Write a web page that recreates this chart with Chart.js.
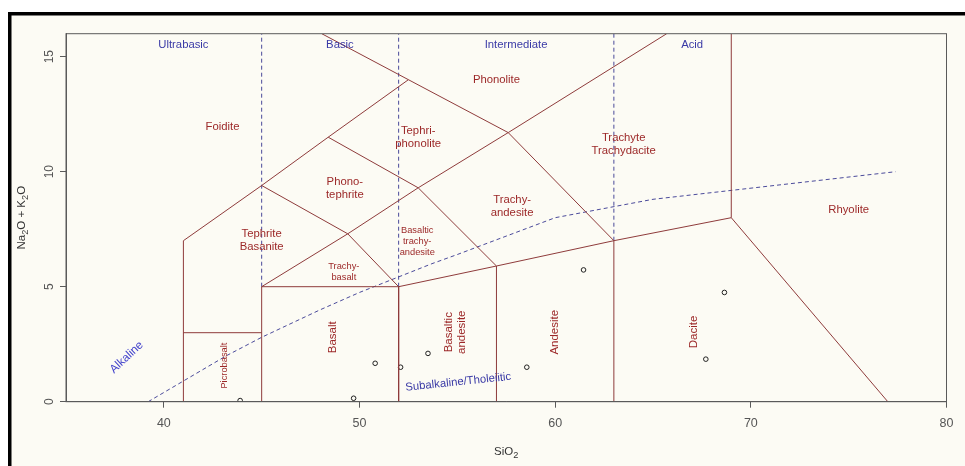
<!DOCTYPE html>
<html>
<head>
<meta charset="utf-8">
<script src="https://cdn.jsdelivr.net/npm/chart.js@4.4.0/dist/chart.umd.min.js"></script>
<style>
  html, body { margin: 0; padding: 0; background: #fff; }
</style>
</head>
<body>
<canvas id="tas" width="965" height="466"></canvas>
<script>
// ---- data (SiO2 wt%, Na2O+K2O wt%) ----
const sampleSiO2 = [43.9, 49.7, 50.8, 52.1, 53.5, 58.55, 61.45, 68.65, 67.7];
const sampleAlk  = [0.05, 0.15, 1.67, 1.5, 2.1, 1.5, 5.73, 4.75, 1.85];

const xTicks = [40, 50, 60, 70, 80];
const yTicks = [0, 5, 10, 15];

// field boundaries (Le Bas et al. 1986)
const edgeFoidite   = [[41, 0], [41, 7], [45, 9.4], [48.4, 11.5], [52.5, 14]];
const edgePicro     = [[41, 3], [45, 3]];
const edgeBasalt    = [[45, 0], [45, 5], [52, 5], [52, 0]];
const edgeSubalk    = [[52, 5], [57, 5.9], [63, 7], [69, 8], [69, 16]];
const edgeAndesite  = [[57, 0], [57, 5.9]];
const edgeDacite    = [[63, 0], [63, 7]];
const edgeRhyolite  = [[69, 8], [77, 0]];
const edgeTrachy    = [[45, 5], [49.4, 7.3], [53, 9.3], [57.6, 11.7], [65.7, 16]];
const edgeTephrite  = [[45, 9.4], [49.4, 7.3], [52, 5]];
const edgePhonoteph = [[48.4, 11.5], [53, 9.3], [57, 5.9]];
const edgePhonolite = [[48.07, 16], [52.5, 14], [57.6, 11.7], [63, 7]];

// silica class dividers and Irvine & Baragar alkaline line
const dividerUltra  = [[45, 5], [45, 16]];
const dividerBasic  = [[52, 5], [52, 16]];
const dividerInter  = [[63, 7], [63, 16]];
const alkalineLineX = [39.2, 40, 43.2, 45, 48, 50, 53.7, 55, 60, 65, 77.4];
const alkalineLineY = [0, 0.4, 2, 2.8, 4, 4.75, 6, 6.4, 8, 8.8, 10];

// field names and where they sit
const fieldNames = ['Foidite', 'Phonolite', 'Tephri-\nphonolite', 'Phono-\ntephrite',
  'Trachyte\nTrachydacite', 'Trachy-\nandesite', 'Tephrite\nBasanite',
  'Basaltic\ntrachy-\nandesite', 'Trachy-\nbasalt', 'Rhyolite',
  'Picrobasalt', 'Basalt', 'Basaltic\nandesite', 'Andesite', 'Dacite'];
const fieldX = [43.0, 57.0, 53.0, 49.25, 63.5, 57.8, 45.0, 52.95, 49.2, 75.0, 43.1, 48.65, 54.9, 60.0, 67.1];
const fieldY = [11.97, 13.98, 11.49, 9.26, 11.2, 8.5, 7.0, 6.96, 5.63, 8.33, 1.57, 2.8, 3.02, 3.02, 3.03];

const classNames = ['Ultrabasic', 'Basic', 'Intermediate', 'Acid', 'Alkaline', 'Subalkaline/Tholeiitic'];
const classX = [41, 49, 58, 67, 38.1, 55.05];
const classY = [15.51, 15.51, 15.51, 15.51, 1.93, 0.85];

// ---- styles ----
const FONT = '"Liberation Sans", Arial, Helvetica, sans-serif';
const RED = '#9c2828';
const EDGE = '#8e3b3b';
const BLUE = '#3a3aa6';
const DASH_BLUE = '#4a4a9a';
const AXIS = '#5a5a5a';

const toPts = arr => arr.map(p => ({ x: p[0], y: p[1] }));

function edge(arr) {
  return {
    data: toPts(arr), showLine: true, borderColor: EDGE, borderWidth: 1,
    pointRadius: 0, fill: false, tension: 0
  };
}
function dashed(pts) {
  return {
    data: pts, showLine: true, borderColor: DASH_BLUE, borderWidth: 1,
    borderDash: [4, 3], pointRadius: 0, fill: false, tension: 0
  };
}

const datasets = [
  edge(edgeFoidite), edge(edgePicro), edge(edgeBasalt), edge(edgeSubalk),
  edge(edgeAndesite), edge(edgeDacite), edge(edgeRhyolite), edge(edgeTrachy),
  edge(edgeTephrite), edge(edgePhonoteph), edge(edgePhonolite),
  dashed(toPts(dividerUltra)), dashed(toPts(dividerBasic)), dashed(toPts(dividerInter)),
  dashed(alkalineLineX.map((x, i) => ({ x: x, y: alkalineLineY[i] }))),
  {
    data: sampleSiO2.map((x, i) => ({ x: x, y: sampleAlk[i] })),
    showLine: false, pointRadius: 2.3, pointStyle: 'circle',
    borderColor: '#222', borderWidth: 1, backgroundColor: 'rgba(0,0,0,0)'
  }
];

// per-label styling: font size, rotation (degrees)
const fieldSize = [11.3, 11.3, 11.3, 11.3, 11.3, 11.3, 11.3, 9.3, 9.3, 11.3, 9.3, 11.5, 11.5, 11.5, 11.5];
const fieldRot  = [0, 0, 0, 0, 0, 0, 0, 0, 0, 0, -90, -90, -90, -90, -90];
const classSize = [11.3, 11.3, 11.3, 11.3, 11.7, 11.3];
const classRot  = [0, 0, 0, 0, -43, -6];

function drawLabel(ctx, text, px, py, size, rot, color) {
  ctx.save();
  ctx.translate(px, py);
  ctx.rotate(rot * Math.PI / 180);
  ctx.font = size + 'px ' + FONT;
  ctx.fillStyle = color;
  ctx.textAlign = 'center';
  ctx.textBaseline = 'middle';
  const lines = text.split('\n');
  const lh = size * 1.17;
  lines.forEach((ln, i) => {
    ctx.fillText(ln, 0, (i - (lines.length - 1) / 2) * lh);
  });
  ctx.restore();
}

// text with subscripts: parts = [[text, isSub], ...]
function drawSubText(ctx, parts, cx, cy, size, rot) {
  ctx.save();
  ctx.translate(cx, cy);
  ctx.rotate(rot);
  ctx.fillStyle = '#333';
  ctx.textBaseline = 'alphabetic';
  ctx.textAlign = 'left';
  let total = 0;
  parts.forEach(p => {
    ctx.font = (p[1] ? size * 0.8 : size) + 'px ' + FONT;
    total += ctx.measureText(p[0]).width;
  });
  let x = -total / 2;
  parts.forEach(p => {
    ctx.font = (p[1] ? size * 0.8 : size) + 'px ' + FONT;
    ctx.fillText(p[0], x, p[1] ? size * 0.62 : size * 0.36);
    x += ctx.measureText(p[0]).width;
  });
  ctx.restore();
}

const tasPlugin = {
  id: 'tas',
  beforeDraw(chart) {
    const ctx = chart.ctx;
    ctx.save();
    ctx.fillStyle = '#ffffff';
    ctx.fillRect(0, 0, chart.width, chart.height);
    ctx.fillStyle = '#fcfbf4';
    ctx.fillRect(11, 15, chart.width - 11, chart.height - 15);
    ctx.fillStyle = '#000';
    ctx.fillRect(8, 12, chart.width - 8, 3.5);
    ctx.fillRect(8, 12, 3.5, chart.height - 12);
    ctx.restore();
  },
  afterDatasetsDraw(chart) {
    const ctx = chart.ctx;
    const xs = chart.scales.x, ys = chart.scales.y;
    const a = chart.chartArea;
    fieldNames.forEach((n, i) => {
      drawLabel(ctx, n, xs.getPixelForValue(fieldX[i]), ys.getPixelForValue(fieldY[i]),
        fieldSize[i], fieldRot[i], RED);
    });
    classNames.forEach((n, i) => {
      drawLabel(ctx, n, xs.getPixelForValue(classX[i]), ys.getPixelForValue(classY[i]),
        classSize[i], classRot[i], i === 4 ? '#4444cc' : BLUE);
    });
    // plot frame
    ctx.save();
    ctx.strokeStyle = AXIS;
    ctx.lineWidth = 1;
    ctx.strokeRect(a.left, a.top, a.right - a.left, a.bottom - a.top);
    // rotated y tick labels
    ctx.fillStyle = '#555';
    ctx.font = '12px ' + FONT;
    ctx.textAlign = 'center';
    ctx.textBaseline = 'middle';
    yTicks.forEach(v => {
      ctx.save();
      ctx.translate(49.5, ys.getPixelForValue(v));
      ctx.rotate(-Math.PI / 2);
      ctx.fillText(String(v), 0, 0);
      ctx.restore();
    });
    ctx.restore();
    // axis titles
    const midX = (a.left + a.right) / 2, midY = (a.top + a.bottom) / 2;
    drawSubText(ctx, [['SiO', 0], ['2', 1]], midX, 450.5, 11.5, 0);
    drawSubText(ctx, [['Na', 0], ['2', 1], ['O + K', 0], ['2', 1], ['O', 0]], 20.5, midY, 11.5, -Math.PI / 2);
  }
};

new Chart(document.getElementById('tas'), {
  type: 'scatter',
  data: { datasets: datasets },
  options: {
    responsive: false,
    animation: false,
    devicePixelRatio: 1,
    layout: { padding: { left: 11, right: 18.5, top: 33.7, bottom: 14.3 } },
    plugins: { legend: { display: false }, tooltip: { enabled: false } },
    scales: {
      x: {
        type: 'linear', min: 35, max: 80,
        afterBuildTicks: s => { s.ticks = xTicks.map(v => ({ value: v })); },
        afterFit: s => { s.height = 50; },
        ticks: { color: '#555', font: { size: 12.5, family: FONT }, padding: 8, maxRotation: 0 },
        grid: { drawOnChartArea: false, drawTicks: true, tickLength: 6, color: AXIS },
        border: { display: true, color: AXIS }
      },
      y: {
        type: 'linear', min: 0, max: 16,
        afterBuildTicks: s => { s.ticks = yTicks.map(v => ({ value: v })); },
        afterFit: s => { s.width = 55; },
        ticks: { display: false },
        grid: { drawOnChartArea: false, drawTicks: true, tickLength: 6, color: AXIS },
        border: { display: true, color: AXIS }
      }
    }
  },
  plugins: [tasPlugin]
});
</script>
</body>
</html>
